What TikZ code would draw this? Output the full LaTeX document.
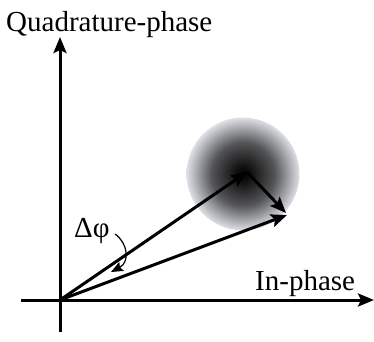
\documentclass[tikz,border=0pt]{standalone}
\usepackage{fontspec}
\setmainfont{Liberation Serif}
\usetikzlibrary{arrows.meta}
\definecolor{bluegrayedge}{RGB}{222,224,230}
\pgfdeclareradialshading{blob}{\pgfpoint{0bp}{0bp}}{%
  color(0bp)=(black);
  color(4bp)=(black!92);
  color(14bp)=(black!62!bluegrayedge);
  color(25bp)=(bluegrayedge);
  color(50bp)=(bluegrayedge)}
\tikzset{
  vec/.style={line width=3pt,-{Stealth[length=16pt,width=13pt,inset=3pt]}},
  lbl/.style={font=\fontsize{29}{32}\selectfont, inner sep=0pt}
}
\begin{document}
\begin{tikzpicture}[x=1pt,y=-1pt]
\useasboundingbox (0,0) rectangle (374,341);
\shade[shading=blob] (243,174) circle (56.5);
\coordinate (O) at (60,300);
\coordinate (ybot) at (60,332);
\coordinate (ytop) at (60,37);
\coordinate (xl) at (21,300);
\coordinate (xr) at (374,300);
\coordinate (A) at (247,172);
\coordinate (B) at (287,215);
\draw[vec] (ybot) -- (ytop);
\draw[vec] (xl) -- (xr);
\draw[vec] (O) -- (A);
\draw[vec] (O) -- (B);
\draw[vec] (A) -- (286,213);
\node[lbl, anchor=base west] (qp) at (6,31) {Quadrature-phase};
\node[lbl, anchor=base west] (ip) at (255,290) {In-phase};
\node[lbl, anchor=base west] (dphi) at (74,237) {Δφ};
\coordinate (cs) at (115,234);
\coordinate (ce) at (111,272);
\draw[line width=1.2pt,-{Stealth[length=12pt,width=10pt,inset=2pt]}] (cs) .. controls (128,243) and (130,262) .. (ce);
\end{tikzpicture}
\end{document}
